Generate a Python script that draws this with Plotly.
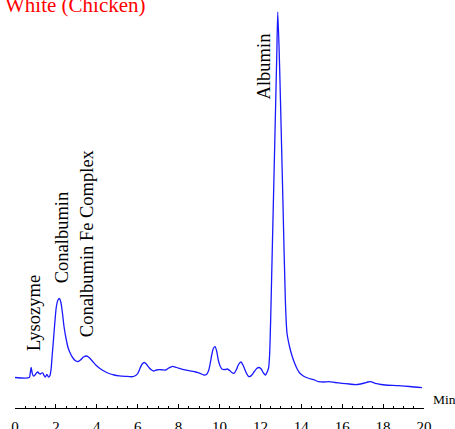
import plotly.graph_objects as go

# Chromatogram (egg white, chicken) - time in minutes, detector signal (arbitrary units)
time_min = [0.00, 0.70, 0.74, 0.79, 0.84, 0.90, 0.98, 1.05, 1.12, 1.18, 1.24, 1.30, 1.36, 1.42,
            1.48, 1.56, 1.64, 1.70, 1.76, 1.82, 1.88, 1.95, 2.02, 2.10, 2.17, 2.24, 2.32, 2.40,
            2.50, 2.60, 2.72, 2.85, 2.98, 3.08, 3.20, 3.35, 3.50, 3.62, 3.80, 3.95, 4.12, 4.35,
            4.60, 4.85, 5.10, 5.40, 5.75, 5.90, 6.00, 6.12, 6.22, 6.32, 6.42, 6.56, 6.68, 6.78,
            6.92, 7.05, 7.20, 7.37, 7.52, 7.70, 7.90, 8.19, 8.50, 8.84, 9.05, 9.24, 9.36, 9.46,
            9.54, 9.62, 9.70, 9.78, 9.86, 9.94, 10.04, 10.14, 10.26, 10.38, 10.50, 10.60, 10.71,
            10.82, 10.93, 11.05, 11.17, 11.30, 11.40, 11.47, 11.58, 11.70, 11.82, 11.93, 12.04,
            12.15, 12.25, 12.33, 12.40, 12.45, 12.50, 12.55, 12.60, 12.65, 12.70, 12.75, 12.80,
            12.85, 12.94, 13.02, 13.10, 13.22, 13.30, 13.43, 13.55, 13.67, 13.80, 13.92, 14.10,
            14.32, 14.65, 14.85, 15.10, 15.34, 15.65, 15.99, 16.35, 16.64, 16.90, 17.10, 17.25,
            17.38, 17.55, 17.70, 17.90, 18.10, 18.76, 19.30, 19.90]

signal = [0.5, 0.5, 4, 10.5, 5, 2, 3, 5, 6, 4.5, 4, 5, 5, 2.5,
          1, 3.5, 1, 2, 8, 23, 38, 56, 71, 78, 79.5, 76, 65, 51,
          39, 30, 24, 19.5, 17, 16.5, 18, 21, 22, 20.5, 16.5, 13, 10, 7,
          4.5, 3, 2.2, 1.7, 1.3, 2.5, 4.5, 10, 14, 15.5, 14, 10.3, 8, 7,
          8, 8.3, 8.2, 8, 10, 11.7, 10.5, 8.7, 7.3, 6, 4.7, 3, 3.5, 7,
          14, 23, 29.5, 31.3, 27, 18, 11.5, 8.7, 8.5, 9, 7.5, 5.5, 4.7,
          8, 13.5, 16, 12, 5.5, 2, 1.3, 3, 6.5, 9.5, 10.5, 9,
          5, 3, 6, 10, 23, 57, 101, 145, 189, 233, 278, 322,
          366, 311, 245, 178, 78, 45, 31, 22, 15, 9, 5, 2,
          0, -2, -3.7, -4, -3.7, -4.5, -5.3, -6, -6.7, -6, -5, -4,
          -3.7, -4.8, -5.7, -6.5, -7, -7.7, -8.5, -9.7]

tick_values = [0, 2, 4, 6, 8, 10, 12, 14, 16, 18, 20]
tick_labels = ["0", "2", "4", "6", "8", "10", "12", "14", "16", "18", "20"]

peak_labels = ["Lysozyme", "Conalbumin", "Conalbumin Fe Complex", "Albumin"]
peak_label_time = [0.90, 2.31, 3.53, 12.17]
peak_label_level = [65.5, 140, 135, 311.5]

title_text = "White (Chicken)"
axis_unit = "Min"

SERIF = "Liberation Serif"

fig = go.Figure()
fig.add_trace(go.Scatter(
    x=time_min, y=signal, mode="lines",
    line=dict(color="#1a1aff", width=1.3, shape="spline", smoothing=0.7),
    hoverinfo="skip", showlegend=False,
))

annotations = []
for txt, tx, ty in zip(peak_labels, peak_label_time, peak_label_level):
    annotations.append(dict(
        x=tx, y=ty, xref="x", yref="y", text=txt, textangle=-90,
        showarrow=False, xanchor="center", yanchor="middle",
        font=dict(family=SERIF, size=18.5, color="black"),
    ))

annotations.append(dict(
    x=-0.03, y=0.9885, xref="paper", yref="paper", text=title_text,
    showarrow=False, xanchor="left", yanchor="middle",
    font=dict(family=SERIF, size=21, color="red"),
))
annotations.append(dict(
    x=1.017, y=0.0215, xref="paper", yref="paper", text=axis_unit,
    showarrow=False, xanchor="left", yanchor="middle",
    font=dict(family=SERIF, size=13.5, color="black"),
))

fig.update_layout(
    width=455, height=429,
    margin=dict(l=15, r=31, t=0, b=21, pad=0, autoexpand=False),
    paper_bgcolor="white", plot_bgcolor="white",
    annotations=annotations,
    xaxis=dict(
        range=[0, 20], showgrid=False, zeroline=False, automargin=False,
        showline=True, linecolor="black", linewidth=1,
        ticks="inside", ticklen=4, tickwidth=1, tickcolor="black",
        tickmode="array", tickvals=tick_values, ticktext=tick_labels,
        tickfont=dict(family=SERIF, size=15, color="black"),
        ticklabelstandoff=5,
        minor=dict(ticks="inside", ticklen=2.5, tickwidth=1, tickcolor="black",
                   dtick=0.5, tick0=0, showgrid=False),
    ),
    yaxis=dict(visible=False, range=[-30, 378], automargin=False),
)

fig.write_html("out.html", config={"displayModeBar": False},
               post_script="document.body.style.margin='0';document.body.style.overflow='hidden';")
